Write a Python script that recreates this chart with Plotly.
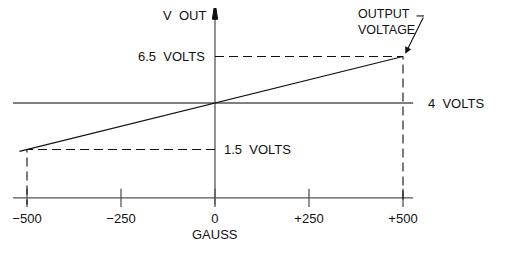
import plotly.graph_objects as go

# ---- data ----
gauss_ticks = [-500, -250, 0, 250, 500]
gauss_tick_labels = ["\u2212500", "\u2212250", "0", "+250", "+500"]
output_gauss = [-520, 500]          # transfer line end points (gauss)
output_volts = [1.4, 6.5]           # transfer line end points (volts)
level_volts = [1.5, 4.0, 6.5]       # marked voltage levels
level_labels = ["1.5  VOLTS", "4  VOLTS", "6.5  VOLTS"]
span_gauss = [-537, 527]            # extent of horizontal axis lines
axis_base_v = -1.1                  # vertical level where the gauss axis is drawn
axis_top_v = 9.45                   # top of V OUT arrow

FONT = dict(family="Liberation Sans, Arial, sans-serif", size=13, color="#111")
AX_COLOR = "#555"
LINE_COLOR = "#111"
DASH = "9px,5px"

fig = go.Figure()

# horizontal gauss axis
fig.add_trace(go.Scatter(x=span_gauss, y=[axis_base_v, axis_base_v], mode="lines",
                         line=dict(color=AX_COLOR, width=1.3), hoverinfo="skip"))
# ticks crossing the axis
fig.add_trace(go.Scatter(x=gauss_ticks, y=[axis_base_v] * len(gauss_ticks), mode="markers",
                         marker=dict(symbol="line-ns-open", size=13, color=AX_COLOR,
                                     line=dict(color=AX_COLOR, width=1.3)),
                         hoverinfo="skip"))
# tick labels
fig.add_trace(go.Scatter(x=gauss_ticks, y=[axis_base_v - 1.18] * len(gauss_ticks), mode="text",
                         text=gauss_tick_labels, textfont=FONT, textposition="middle center",
                         hoverinfo="skip"))
# 4 volts reference line
fig.add_trace(go.Scatter(x=span_gauss, y=[level_volts[1]] * 2, mode="lines",
                         line=dict(color=AX_COLOR, width=1.3), hoverinfo="skip"))
# vertical V OUT axis
fig.add_trace(go.Scatter(x=[0, 0], y=[axis_base_v - 0.37, axis_top_v - 0.6], mode="lines",
                         line=dict(color=AX_COLOR, width=1.3), hoverinfo="skip"))
# arrowhead at top of V OUT axis
fig.add_trace(go.Scatter(x=[-7, 0, 7, -7], y=[axis_top_v - 0.95, axis_top_v, axis_top_v - 0.95, axis_top_v - 0.95],
                         mode="lines", fill="toself", fillcolor="#111",
                         line=dict(color="#111", width=1), hoverinfo="skip"))

# dashed guide lines
fig.add_trace(go.Scatter(x=[0, output_gauss[1], output_gauss[1]],
                         y=[level_volts[2], level_volts[2], axis_base_v - 0.37], mode="lines",
                         line=dict(color=LINE_COLOR, width=1.1, dash=DASH), hoverinfo="skip"))
fig.add_trace(go.Scatter(x=[0, gauss_ticks[0], gauss_ticks[0]],
                         y=[level_volts[0], level_volts[0], axis_base_v - 0.37], mode="lines",
                         line=dict(color=LINE_COLOR, width=1.1, dash=DASH), hoverinfo="skip"))

# transfer characteristic
fig.add_trace(go.Scatter(x=output_gauss, y=output_volts, mode="lines",
                         line=dict(color=LINE_COLOR, width=1.1), hoverinfo="skip"))

ann = []
ann.append(dict(x=0, y=8.72, text="V  OUT", xanchor="right", xshift=-7, showarrow=False, font=FONT))
ann.append(dict(x=0, y=level_volts[2], text=level_labels[2], xanchor="right", xshift=-8,
                showarrow=False, font=FONT))
ann.append(dict(x=0, y=level_volts[0], text=level_labels[0], xanchor="left", xshift=7,
                showarrow=False, font=FONT))
ann.append(dict(x=span_gauss[1], y=level_volts[1], text=level_labels[1], xanchor="left", xshift=13,
                showarrow=False, font=FONT))
ann.append(dict(x=0, y=axis_base_v - 1.95, text="GAUSS", showarrow=False, font=FONT))
ann.append(dict(x=376, y=8.36, text="OUTPUT<br>VOLTAGE", xanchor="left", align="left",
                showarrow=False, font=dict(FONT, size=12.5)))
# leader arrow to output voltage point
ann.append(dict(x=output_gauss[1] + 6, y=output_volts[1] + 0.15, ax=556, ay=8.68,
                axref="x", ayref="y", text="", showarrow=True, arrowhead=2, arrowsize=1.2,
                arrowwidth=1.1, arrowcolor="#111"))
fig.add_trace(go.Scatter(x=[536, 556], y=[8.68, 8.68], mode="lines",
                         line=dict(color="#111", width=1.1), hoverinfo="skip"))

# ranges compensate for the 8px page margin around the figure
fig.update_layout(
    width=507, height=254, margin=dict(l=0, r=0, t=0, b=0),
    paper_bgcolor="white", plot_bgcolor="white", showlegend=False,
    xaxis=dict(range=[-550.5, 797.9], visible=False, fixedrange=True),
    yaxis=dict(range=[-4.548, 9.107], visible=False, fixedrange=True),
    annotations=ann,
)
fig.write_html("out.html")
